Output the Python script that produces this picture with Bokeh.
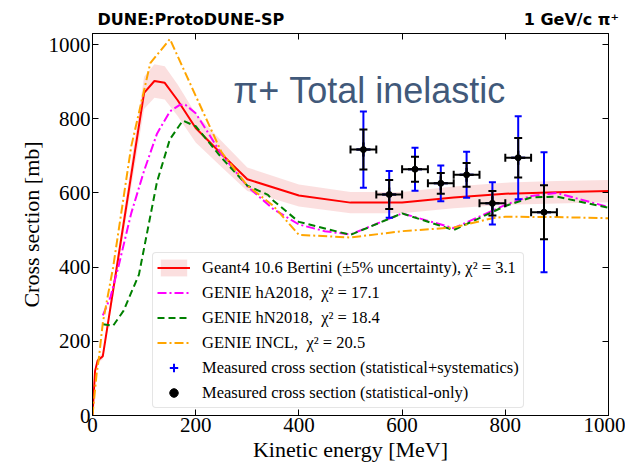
import numpy as np
from bokeh.plotting import figure
from bokeh.models import (ColumnDataSource, Legend, LegendItem, Label, LinearAxis,
                          Range1d, FixedTicker, CustomJSTickFormatter, Title)
from bokeh.embed import file_html
from bokeh.resources import INLINE

# ---------------- data ----------------
e_g4 = [0, 5, 10, 20, 100, 120, 140, 165, 200, 250, 300, 400, 500, 600, 700, 800, 900, 1000]
xs_g4 = [0, 120, 148, 160, 870, 902, 897, 850, 775, 705, 637, 593, 574, 574, 588, 598, 602, 605]

e_ha = [20, 35, 50, 75, 100, 125, 150, 170, 180, 200, 250, 300, 350, 400, 450, 500, 600, 700, 800, 850, 900, 1000]
xs_ha = [270, 320, 400, 545, 660, 760, 820, 838, 838, 815, 705, 618, 557, 515, 497, 488, 545, 505, 568, 592, 600, 562]

e_hn = [20, 40, 60, 90, 125, 150, 175, 200, 250, 300, 340, 350, 400, 500, 600, 700, 800, 850, 900, 1000]
xs_hn = [246, 242, 282, 380, 630, 745, 795, 780, 695, 620, 595, 580, 522, 487, 545, 500, 565, 588, 590, 560]

e_incl = [0, 8, 12, 20, 40, 75, 112, 150, 200, 250, 300, 350, 400, 500, 600, 700, 775, 800, 900, 1000]
xs_incl = [0, 113, 150, 250, 400, 725, 950, 1015, 862, 710, 620, 566, 487, 480, 497, 507, 532, 536, 535, 532]

data_e = [525, 575, 625, 675, 725, 775, 825, 875]
data_xs = [717, 596, 664, 626, 649, 572, 695, 548]
data_stat = [54, 39, 34, 28, 32, 33, 53, 73]
data_tot = [103, 63, 58, 48, 62, 57, 112, 162]
data_halfbin = [25, 25, 25, 25, 25, 25, 25, 25]

x_ticks = [0, 200, 400, 600, 800, 1000]
y_ticks = [0, 200, 400, 600, 800, 1000]

header_left = "DUNE:ProtoDUNE-SP"
header_right = "1 GeV/c π⁺"

SERIF = "Liberation Serif"

# ---------------- figure ----------------
p = figure(width=625, height=464,
           x_range=Range1d(0, 1000), y_range=Range1d(0, 1030),
           output_backend="svg", toolbar_location=None,
           min_border_left=92, min_border_right=17, min_border_top=33, min_border_bottom=45)
p.grid.visible = False
p.outline_line_color = "black"
p.background_fill_color = "white"
p.border_fill_color = "white"

for ax in (p.xaxis[0], p.yaxis[0]):
    ax.major_tick_in = 6
    ax.major_tick_out = 0
    ax.minor_tick_line_color = None
    ax.axis_line_color = "black"
    ax.major_tick_line_color = "black"
    ax.major_label_text_font = SERIF
    ax.major_label_text_font_size = "21px"
    ax.major_label_text_color = "black"
    ax.axis_label_text_font = SERIF
    ax.axis_label_text_font_size = "22px"
    ax.axis_label_text_font_style = "normal"
    ax.axis_label_text_color = "black"
    ax.major_label_standoff = 2
    ax.axis_label_standoff = 2
p.xaxis.ticker = FixedTicker(ticks=x_ticks)
p.yaxis.ticker = FixedTicker(ticks=y_ticks)
p.xaxis.axis_label = "Kinetic energy [MeV]"
p.yaxis.axis_label = "Cross section [mb]"

blank = CustomJSTickFormatter(code="return ''")
for loc, ticks in (("above", x_ticks), ("right", y_ticks)):
    ax = LinearAxis(ticker=FixedTicker(ticks=ticks), major_tick_in=6, major_tick_out=0,
                    minor_tick_line_color=None, formatter=blank,
                    axis_line_color="black", major_tick_line_color="black",
                    major_label_standoff=0)
    p.add_layout(ax, loc)

# header line (left experiment tag and right beam tag on one line)
header = header_left + "\u00a0" * 43 + header_right
p.add_layout(Title(text=header, align="left", offset=5, standoff=9,
                   text_font="DejaVu Sans", text_font_style="bold", text_font_size="16px",
                   text_color="black"), "above")

# ---------------- glyphs ----------------
g4 = np.array(xs_g4, dtype=float)
band = p.varea(x=e_g4, y1=g4 * 0.95, y2=g4 * 1.05, fill_color="#f08080", fill_alpha=0.25)
r_g4 = p.line(e_g4, xs_g4, line_color="red", line_width=2)
r_ha = p.line(e_ha, xs_ha, line_color="#ff00ff", line_width=2, line_dash="9 3 2 3")
r_hn = p.line(e_hn, xs_hn, line_color="green", line_width=2, line_dash="7 4")
r_incl = p.line(e_incl, xs_incl, line_color="orange", line_width=2, line_dash="9 3 2 3")

y = np.array(data_xs, dtype=float)
x = np.array(data_e, dtype=float)
src = ColumnDataSource(dict(
    x=x, y=y,
    tlo=y - np.array(data_tot), thi=y + np.array(data_tot),
    slo=y - np.array(data_stat), shi=y + np.array(data_stat),
    xlo=x - np.array(data_halfbin), xhi=x + np.array(data_halfbin),
))

r_bcross = p.scatter("x", "y", source=src, marker="cross", size=14, line_color="blue", line_width=2)
p.segment("x", "tlo", "x", "thi", source=src, line_color="blue", line_width=2)
p.scatter("x", "tlo", source=src, marker="dash", size=7, line_color="blue", line_width=2)
p.scatter("x", "thi", source=src, marker="dash", size=7, line_color="blue", line_width=2)

r_kcross = p.scatter("x", "y", source=src, marker="cross", size=14, line_color="black", line_width=2)
p.segment("x", "slo", "x", "shi", source=src, line_color="black", line_width=2)
p.segment("xlo", "y", "xhi", "y", source=src, line_color="black", line_width=2)
p.scatter("x", "slo", source=src, marker="dash", size=8, line_color="black", line_width=2)
p.scatter("x", "shi", source=src, marker="dash", size=8, line_color="black", line_width=2)
p.scatter("xlo", "y", source=src, marker="dash", angle=np.pi / 2, size=8, line_color="black", line_width=2)
p.scatter("xhi", "y", source=src, marker="dash", angle=np.pi / 2, size=8, line_color="black", line_width=2)
r_kdot = p.scatter("x", "y", source=src, marker="circle", size=6, fill_color="black", line_color="black")

# ---------------- legend ----------------
legend = Legend(items=[
    LegendItem(label="Geant4 10.6 Bertini (±5% uncertainty), χ² = 3.1", renderers=[band, r_g4]),
    LegendItem(label="GENIE hA2018,  χ² = 17.1", renderers=[r_ha]),
    LegendItem(label="GENIE hN2018,  χ² = 18.4", renderers=[r_hn]),
    LegendItem(label="GENIE INCL,  χ² = 20.5", renderers=[r_incl]),
    LegendItem(label="Measured cross section (statistical+systematics)", renderers=[r_bcross]),
    LegendItem(label="Measured cross section (statistical-only)", renderers=[r_kcross, r_kdot]),
], location=(60, 7))
legend.label_text_font = SERIF
legend.label_text_font_size = "16.5px"
legend.label_text_color = "black"
legend.glyph_width = 33
legend.glyph_height = 21
legend.label_height = 21
legend.spacing = 4
legend.padding = 4
legend.margin = 0
legend.label_standoff = 12
legend.border_line_color = "#cccccc"
legend.border_line_width = 1
legend.border_radius = 4
legend.background_fill_color = "white"
legend.background_fill_alpha = 0.85
p.add_layout(legend)

# ---------------- texts ----------------
p.add_layout(Label(x=273, y=877, text="π+ Total inelastic", text_font="Liberation Sans",
                   text_font_size="36px", text_color="#41597a", text_baseline="alphabetic"))

open("out.html", "w").write(file_html(p, INLINE))
